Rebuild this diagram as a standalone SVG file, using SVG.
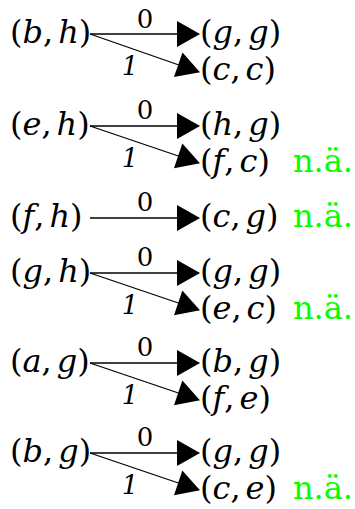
<svg xmlns="http://www.w3.org/2000/svg" width="355" height="509" viewBox="0 0 355 509">
<style>
.m{font-family:"DejaVu Serif",serif;font-size:32px;fill:#000}
.i{font-style:italic}
.l{font-family:"DejaVu Serif",serif;font-size:26px;fill:#000;text-anchor:middle}
.g{font-family:"DejaVu Serif",serif;font-size:32px;fill:#00ff00}
.e{stroke:#000;stroke-width:1.3;fill:none;marker-end:url(#ah)}
</style>
<defs>
<marker id="ah" markerUnits="userSpaceOnUse" markerWidth="24" markerHeight="26" refX="22" refY="13" orient="auto" viewBox="0 0 24 26" overflow="visible">
<path d="M0,0 L23,13 L0,26 z" fill="#000"/>
</marker>
</defs>
<g id="connectors">
<line class="e" x1="90" y1="34" x2="199" y2="34"/>
<line class="e" x1="90" y1="34" x2="199" y2="72"/>
<line class="e" x1="90" y1="126" x2="199" y2="126"/>
<line class="e" x1="90" y1="126" x2="199" y2="163"/>
<line class="e" x1="90" y1="218" x2="199" y2="218"/>
<line class="e" x1="90" y1="273" x2="199" y2="273"/>
<line class="e" x1="90" y1="273" x2="199" y2="310"/>
<line class="e" x1="90" y1="363" x2="199" y2="363"/>
<line class="e" x1="90" y1="363" x2="199" y2="400"/>
<line class="e" x1="90" y1="453" x2="199" y2="453"/>
<line class="e" x1="90" y1="453" x2="199" y2="490"/>
<text class="l" x="145" y="28">0</text>
<text class="l i" x="130" y="75">1</text>
<text class="l" x="145" y="119">0</text>
<text class="l i" x="130" y="167">1</text>
<text class="l" x="145" y="211">0</text>
<text class="l" x="145" y="266">0</text>
<text class="l i" x="130" y="314">1</text>
<text class="l" x="145" y="356">0</text>
<text class="l i" x="130" y="404">1</text>
<text class="l" x="145" y="446">0</text>
<text class="l i" x="130" y="494">1</text>
</g>
<g id="n-bh1"><text class="m" x="10" y="43">(<tspan class="i">b</tspan>,<tspan class="i" dx="5">h</tspan>)</text></g>
<g id="n-gg1"><text class="m" x="200" y="43">(<tspan class="i">g</tspan>,<tspan class="i" dx="5">g</tspan>)</text></g>
<g id="n-cc"><text class="m" x="200" y="80">(<tspan class="i">c</tspan>,<tspan class="i" dx="5">c</tspan>)</text></g>
<g id="n-eh"><text class="m" x="10" y="135">(<tspan class="i">e</tspan>,<tspan class="i" dx="5">h</tspan>)</text></g>
<g id="n-hg"><text class="m" x="200" y="135">(<tspan class="i">h</tspan>,<tspan class="i" dx="5">g</tspan>)</text></g>
<g id="n-fc"><text class="m" x="200" y="172">(<tspan class="i">f</tspan>,<tspan class="i" dx="5">c</tspan>)</text><text class="g" x="293" y="172">n.ä.</text></g>
<g id="n-fh"><text class="m" x="10" y="227">(<tspan class="i">f</tspan>,<tspan class="i" dx="5">h</tspan>)</text></g>
<g id="n-cg"><text class="m" x="200" y="227">(<tspan class="i">c</tspan>,<tspan class="i" dx="5">g</tspan>)</text><text class="g" x="293" y="227">n.ä.</text></g>
<g id="n-gh"><text class="m" x="10" y="282">(<tspan class="i">g</tspan>,<tspan class="i" dx="5">h</tspan>)</text></g>
<g id="n-gg2"><text class="m" x="200" y="282">(<tspan class="i">g</tspan>,<tspan class="i" dx="5">g</tspan>)</text></g>
<g id="n-ec"><text class="m" x="200" y="319">(<tspan class="i">e</tspan>,<tspan class="i" dx="5">c</tspan>)</text><text class="g" x="293" y="319">n.ä.</text></g>
<g id="n-ag"><text class="m" x="10" y="372">(<tspan class="i">a</tspan>,<tspan class="i" dx="5">g</tspan>)</text></g>
<g id="n-bg1"><text class="m" x="200" y="372">(<tspan class="i">b</tspan>,<tspan class="i" dx="5">g</tspan>)</text></g>
<g id="n-fe"><text class="m" x="200" y="409">(<tspan class="i">f</tspan>,<tspan class="i" dx="5">e</tspan>)</text></g>
<g id="n-bg2"><text class="m" x="10" y="462">(<tspan class="i">b</tspan>,<tspan class="i" dx="5">g</tspan>)</text></g>
<g id="n-gg3"><text class="m" x="200" y="462">(<tspan class="i">g</tspan>,<tspan class="i" dx="5">g</tspan>)</text></g>
<g id="n-ce"><text class="m" x="200" y="499">(<tspan class="i">c</tspan>,<tspan class="i" dx="5">e</tspan>)</text><text class="g" x="293" y="499">n.ä.</text></g>
</svg>
